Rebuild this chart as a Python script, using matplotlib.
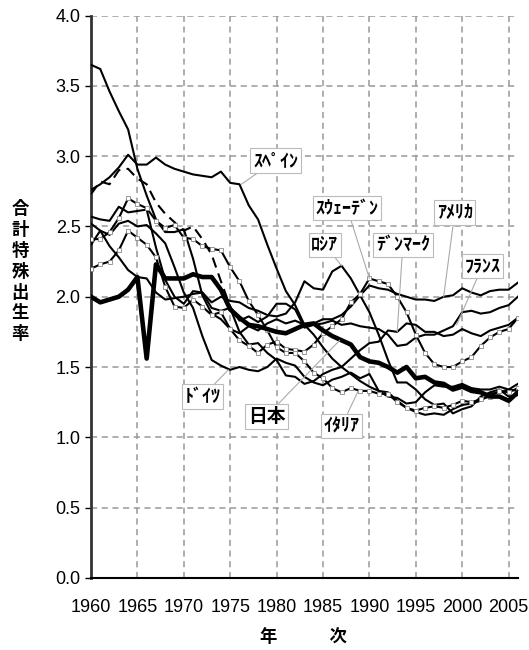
import numpy as np
import matplotlib
matplotlib.use('Agg')
import matplotlib.pyplot as plt

plt.rcParams['font.family'] = ['Liberation Sans', 'Noto Sans CJK JP', 'DejaVu Sans']
JP = ['Noto Sans CJK JP', 'DejaVu Sans']

# データ (1960-2006年, 合計特殊出生率)
years = list(range(1960, 2007))

japan = [2.00, 1.96, 1.98, 2.00, 2.05, 2.14, 1.56, 2.23, 2.13, 2.13,
         2.13, 2.16, 2.14, 2.14, 2.05, 1.91, 1.85, 1.80, 1.79, 1.77,
         1.75, 1.74, 1.77, 1.80, 1.81, 1.76, 1.72, 1.69, 1.66, 1.57,
         1.54, 1.53, 1.50, 1.46, 1.50, 1.42, 1.43, 1.39, 1.38, 1.34,
         1.36, 1.33, 1.32, 1.29, 1.29, 1.26, 1.32]
usa = [3.65, 3.62, 3.46, 3.32, 3.19, 2.91, 2.72, 2.55, 2.46, 2.46,
       2.48, 2.27, 2.01, 1.88, 1.84, 1.77, 1.74, 1.79, 1.76, 1.81,
       1.84, 1.81, 1.83, 1.80, 1.81, 1.84, 1.84, 1.87, 1.93, 2.01,
       2.08, 2.06, 2.05, 2.02, 2.00, 1.98, 1.98, 1.97, 2.00, 2.01,
       2.06, 2.03, 2.01, 2.04, 2.05, 2.05, 2.10]
france = [2.73, 2.82, 2.80, 2.90, 2.91, 2.84, 2.80, 2.67, 2.59, 2.53,
          2.47, 2.50, 2.41, 2.30, 2.11, 1.93, 1.83, 1.86, 1.82, 1.86,
          1.95, 1.95, 1.91, 1.78, 1.80, 1.81, 1.83, 1.80, 1.81, 1.79,
          1.78, 1.77, 1.73, 1.65, 1.66, 1.71, 1.73, 1.73, 1.76, 1.79,
          1.89, 1.90, 1.88, 1.89, 1.92, 1.94, 2.00]
sweden = [2.20, 2.23, 2.25, 2.33, 2.47, 2.42, 2.37, 2.28, 2.07, 1.93,
          1.92, 1.98, 1.93, 1.87, 1.89, 1.77, 1.69, 1.65, 1.60, 1.66,
          1.68, 1.63, 1.62, 1.61, 1.66, 1.74, 1.79, 1.84, 1.96, 2.02,
          2.13, 2.11, 2.09, 2.00, 1.89, 1.73, 1.60, 1.52, 1.50, 1.50,
          1.54, 1.57, 1.65, 1.71, 1.75, 1.77, 1.85]
italy = [2.41, 2.41, 2.46, 2.56, 2.70, 2.66, 2.63, 2.54, 2.49, 2.51,
         2.42, 2.41, 2.36, 2.34, 2.33, 2.21, 2.11, 1.97, 1.87, 1.76,
         1.64, 1.60, 1.60, 1.54, 1.46, 1.42, 1.35, 1.32, 1.35, 1.33,
         1.33, 1.31, 1.31, 1.25, 1.21, 1.19, 1.21, 1.22, 1.21, 1.23,
         1.26, 1.25, 1.27, 1.29, 1.33, 1.32, 1.35]
denmark = [2.57, 2.55, 2.54, 2.64, 2.60, 2.61, 2.62, 2.35, 2.12, 2.00,
           1.95, 2.04, 2.03, 1.92, 1.90, 1.92, 1.75, 1.66, 1.67, 1.60,
           1.55, 1.44, 1.43, 1.38, 1.40, 1.45, 1.48, 1.50, 1.56, 1.62,
           1.67, 1.68, 1.76, 1.75, 1.81, 1.80, 1.75, 1.75, 1.72, 1.73,
           1.77, 1.74, 1.72, 1.76, 1.78, 1.80, 1.85]
germany = [2.37, 2.47, 2.44, 2.52, 2.54, 2.50, 2.51, 2.45, 2.38, 2.21,
           2.03, 1.92, 1.72, 1.55, 1.51, 1.48, 1.50, 1.48, 1.47, 1.50,
           1.56, 1.53, 1.51, 1.43, 1.39, 1.37, 1.41, 1.43, 1.46, 1.42,
           1.45, 1.33, 1.29, 1.28, 1.24, 1.25, 1.32, 1.37, 1.36, 1.36,
           1.38, 1.35, 1.34, 1.34, 1.36, 1.34, 1.33]
russia = [2.52, 2.47, 2.36, 2.28, 2.19, 2.14, 2.13, 2.03, 1.98, 1.99,
          2.00, 2.02, 2.03, 1.96, 2.00, 1.97, 1.96, 1.92, 1.90, 1.87,
          1.86, 1.88, 1.96, 2.11, 2.06, 2.05, 2.18, 2.22, 2.13, 2.01,
          1.89, 1.73, 1.55, 1.39, 1.39, 1.34, 1.27, 1.23, 1.24, 1.17,
          1.20, 1.22, 1.29, 1.32, 1.34, 1.29, 1.30]
spain = [2.76, 2.80, 2.85, 2.92, 3.01, 2.94, 2.94, 2.99, 2.94, 2.91,
         2.89, 2.87, 2.86, 2.85, 2.89, 2.81, 2.80, 2.65, 2.55, 2.37,
         2.20, 2.04, 1.94, 1.80, 1.73, 1.64, 1.56, 1.50, 1.45, 1.40,
         1.36, 1.33, 1.32, 1.26, 1.21, 1.18, 1.16, 1.17, 1.16, 1.20,
         1.23, 1.24, 1.26, 1.31, 1.32, 1.34, 1.38]

# ラベル (テキスト位置, 指す点)
labels = ['ｽﾍﾟｲﾝ', 'ｽｳｪｰﾃﾞﾝ', 'ﾛｼｱ', 'ﾃﾞﾝﾏｰｸ', 'ｱﾒﾘｶ', 'ﾌﾗﾝｽ', 'ﾄﾞｲﾂ', '日本', 'ｲﾀﾘｱ']
label_xy = [(1979.9, 2.97), (1987.6, 2.63), (1985.2, 2.37), (1993.6, 2.37),
            (1999.2, 2.60), (2002.2, 2.22), (1972.0, 1.29), (1978.9, 1.15), (1987.0, 1.08)]
point_xy = [(1976.2, 2.80), (1990.0, 2.13), (1987.0, 2.22), (1993.0, 1.75),
            (1998.0, 2.00), (1999.4, 1.80), (1974.8, 1.48), (1986.8, 1.69), (1988.8, 1.33)]

fig = plt.figure(figsize=(5.29, 6.5), dpi=100)
ax = fig.add_axes([0.172, 0.111, 0.807, 0.865])

lw = 1.5
ax.plot(years, usa, color='black', lw=lw, zorder=3)
ax.plot(years, spain, color='black', lw=lw, zorder=3)
ax.plot(years, russia, color='black', lw=lw, zorder=3)
ax.plot(years, denmark, color='black', lw=lw, zorder=3)
ax.plot(years, germany, color='black', lw=lw, zorder=3)
ax.plot(years[:16], france[:16], color='black', lw=lw, ls=(0, (5, 3)), zorder=3)
ax.plot(years[15:], france[15:], color='black', lw=lw, zorder=3)
ax.plot(years, sweden, color='black', lw=lw, marker='s', ms=2.5,
        mfc='white', mec='#888888', mew=0.6, zorder=3)
ax.plot(years, italy, color='black', lw=lw, marker='s', ms=2.5,
        mfc='white', mec='#888888', mew=0.6, zorder=3)
ax.plot(years, japan, color='black', lw=3.3, zorder=4)

for lab, txy, pxy in zip(labels, label_xy, point_xy):
    big = lab == '日本'
    ax.annotate(lab, xy=pxy, xytext=txy, ha='center', va='center',
                family=JP, fontsize=13.5 if big else 13, fontweight='bold',
                bbox=dict(boxstyle='square,pad=0.15', fc='white', ec='#bbbbbb', lw=0.8),
                arrowprops=dict(arrowstyle='-', color='#aaaaaa', lw=0.8,
                                shrinkA=0, shrinkB=0),
                zorder=5)

ax.set_xlim(1960, 2006)
ax.set_ylim(0, 4)
ax.set_xticks(range(1960, 2006, 5))
ax.set_yticks(np.arange(0, 4.01, 0.5))
ax.set_yticklabels(['%.1f' % v for v in np.arange(0, 4.01, 0.5)])
ax.tick_params(axis='x', length=0, labelsize=13, pad=15)
ax.tick_params(axis='y', length=4, width=1, labelsize=13, direction='out')

ax.grid(True, color='#999999', ls=(0, (4, 3)), lw=1.1)
ax.spines['top'].set_visible(False)
ax.spines['right'].set_visible(False)
ax.spines['left'].set_linewidth(2)
ax.spines['left'].set_color('#333333')
ax.spines['bottom'].set_linewidth(1.5)

fig.text(0.038, 0.582, '\n'.join('合計特殊出生率'), family=JP, fontsize=12.5,
         fontweight='bold', ha='center', va='center', linespacing=1.2)
fig.text(0.573, 0.02, '年　　　次', family=JP, fontsize=12.5,
         fontweight='bold', ha='center', va='center')

plt.savefig('out.png', dpi=100)
